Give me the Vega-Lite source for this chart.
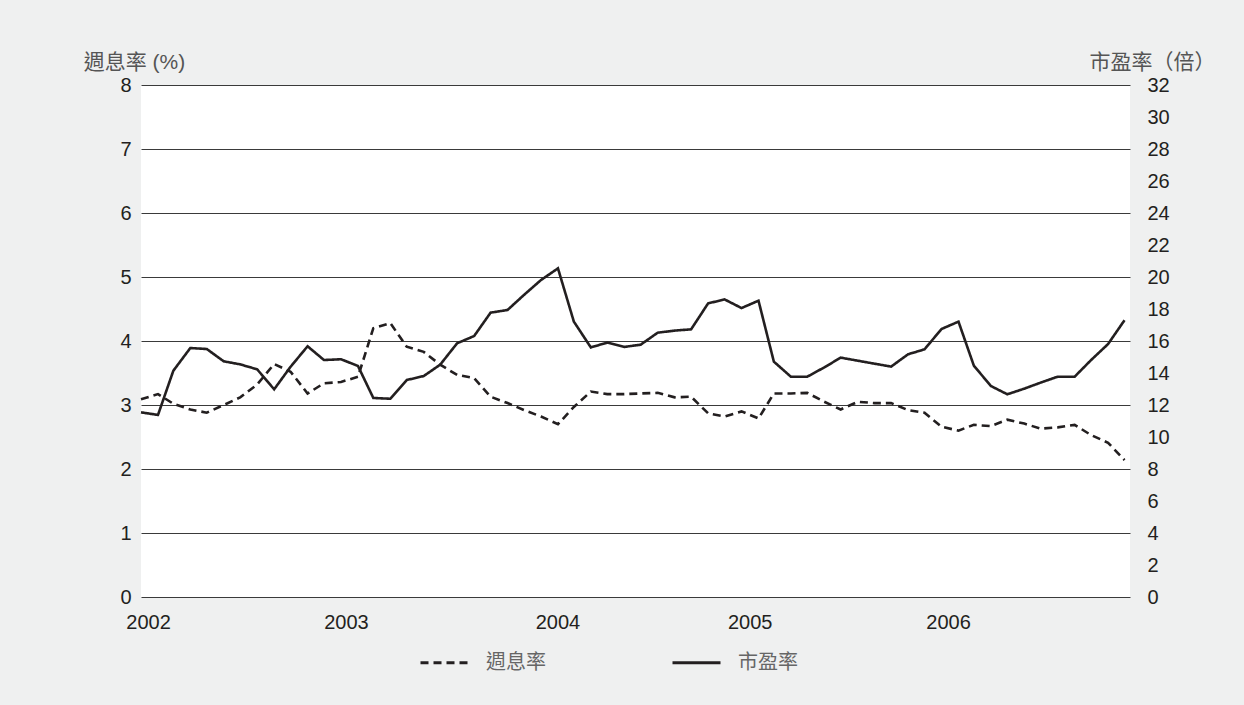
{
  "$schema": "https://vega.github.io/schema/vega-lite/v6.json",
  "width": 989,
  "height": 512,
  "autosize": {"type": "none"},
  "padding": {"left": 141, "top": 85, "right": 114, "bottom": 108},
  "background": "#eff0f0",
  "config": {
    "view": {"stroke": null, "fill": "#ffffff"},
    "font": "Liberation Sans"
  },
  "data": {
    "values": [
      {"date": "2002-01-01", "yield": 3.09, "pe": 11.54},
      {"date": "2002-02-01", "yield": 3.17, "pe": 11.38},
      {"date": "2002-03-01", "yield": 3.02, "pe": 14.14},
      {"date": "2002-04-01", "yield": 2.93, "pe": 15.56},
      {"date": "2002-05-01", "yield": 2.88, "pe": 15.50},
      {"date": "2002-06-01", "yield": 3.00, "pe": 14.73},
      {"date": "2002-07-01", "yield": 3.12, "pe": 14.54},
      {"date": "2002-08-01", "yield": 3.32, "pe": 14.23},
      {"date": "2002-09-01", "yield": 3.64, "pe": 12.98},
      {"date": "2002-10-01", "yield": 3.52, "pe": 14.39},
      {"date": "2002-11-01", "yield": 3.18, "pe": 15.67},
      {"date": "2002-12-01", "yield": 3.34, "pe": 14.81},
      {"date": "2003-01-01", "yield": 3.36, "pe": 14.86},
      {"date": "2003-02-01", "yield": 3.44, "pe": 14.44},
      {"date": "2003-03-01", "yield": 4.20, "pe": 12.44},
      {"date": "2003-04-01", "yield": 4.28, "pe": 12.39},
      {"date": "2003-05-01", "yield": 3.91, "pe": 13.56},
      {"date": "2003-06-01", "yield": 3.83, "pe": 13.81},
      {"date": "2003-07-01", "yield": 3.63, "pe": 14.52},
      {"date": "2003-08-01", "yield": 3.47, "pe": 15.86},
      {"date": "2003-09-01", "yield": 3.42, "pe": 16.31},
      {"date": "2003-10-01", "yield": 3.13, "pe": 17.77},
      {"date": "2003-11-01", "yield": 3.03, "pe": 17.94},
      {"date": "2003-12-01", "yield": 2.92, "pe": 18.88},
      {"date": "2004-01-01", "yield": 2.82, "pe": 19.81},
      {"date": "2004-02-01", "yield": 2.70, "pe": 20.54},
      {"date": "2004-03-01", "yield": 2.97, "pe": 17.21},
      {"date": "2004-04-01", "yield": 3.21, "pe": 15.60},
      {"date": "2004-05-01", "yield": 3.17, "pe": 15.90},
      {"date": "2004-06-01", "yield": 3.17, "pe": 15.63},
      {"date": "2004-07-01", "yield": 3.18, "pe": 15.77},
      {"date": "2004-08-01", "yield": 3.19, "pe": 16.52},
      {"date": "2004-09-01", "yield": 3.12, "pe": 16.65},
      {"date": "2004-10-01", "yield": 3.13, "pe": 16.73},
      {"date": "2004-11-01", "yield": 2.87, "pe": 18.35},
      {"date": "2004-12-01", "yield": 2.82, "pe": 18.60},
      {"date": "2005-01-01", "yield": 2.90, "pe": 18.06},
      {"date": "2005-02-01", "yield": 2.79, "pe": 18.52},
      {"date": "2005-03-01", "yield": 3.18, "pe": 14.71},
      {"date": "2005-04-01", "yield": 3.18, "pe": 13.77},
      {"date": "2005-05-01", "yield": 3.19, "pe": 13.77},
      {"date": "2005-06-01", "yield": 3.05, "pe": 14.35},
      {"date": "2005-07-01", "yield": 2.93, "pe": 14.96},
      {"date": "2005-08-01", "yield": 3.05, "pe": 14.77},
      {"date": "2005-09-01", "yield": 3.03, "pe": 14.58},
      {"date": "2005-10-01", "yield": 3.03, "pe": 14.40},
      {"date": "2005-11-01", "yield": 2.92, "pe": 15.17},
      {"date": "2005-12-01", "yield": 2.88, "pe": 15.48},
      {"date": "2006-01-01", "yield": 2.66, "pe": 16.75},
      {"date": "2006-02-01", "yield": 2.60, "pe": 17.21},
      {"date": "2006-03-01", "yield": 2.69, "pe": 14.46},
      {"date": "2006-04-01", "yield": 2.67, "pe": 13.19},
      {"date": "2006-05-01", "yield": 2.77, "pe": 12.67},
      {"date": "2006-06-01", "yield": 2.71, "pe": 13.02},
      {"date": "2006-07-01", "yield": 2.63, "pe": 13.40},
      {"date": "2006-08-01", "yield": 2.65, "pe": 13.77},
      {"date": "2006-09-01", "yield": 2.69, "pe": 13.77},
      {"date": "2006-10-01", "yield": 2.53, "pe": 14.81},
      {"date": "2006-11-01", "yield": 2.41, "pe": 15.81},
      {"date": "2006-12-01", "yield": 2.14, "pe": 17.30}
    ]
  },
  "encoding": {
    "x": {
      "field": "date",
      "type": "temporal",
      "scale": {
        "type": "utc",
        "domain": [
          {"year": 2002, "month": 1, "date": 1, "utc": true},
          {"year": 2006, "month": 12, "date": 11, "utc": true}
        ]
      },
      "axis": {
        "title": null,
        "values": [
          {"year": 2002, "month": 1, "date": 14, "utc": true},
          {"year": 2003, "month": 1, "date": 10, "utc": true},
          {"year": 2004, "month": 1, "date": 31, "utc": true},
          {"year": 2005, "month": 1, "date": 16, "utc": true},
          {"year": 2006, "month": 1, "date": 13, "utc": true}
        ],
        "format": "%Y",
        "grid": false,
        "ticks": false,
        "domain": false,
        "labelFontSize": 20,
        "labelColor": "#231f20",
        "labelPadding": 15,
        "labelFlush": false
      }
    }
  },
  "layer": [
    {
      "mark": {"type": "line", "color": "#231f20", "strokeWidth": 2.6},
      "encoding": {
        "y": {
          "field": "yield",
          "type": "quantitative",
          "scale": {"domain": [0, 8]},
          "axis": {
            "orient": "left",
            "values": [0, 1, 2, 3, 4, 5, 6, 7, 8],
            "grid": true,
            "gridColor": "#3a3a3a",
            "gridWidth": 1,
            "ticks": false,
            "domain": false,
            "labelFontSize": 20,
            "labelColor": "#231f20",
            "labelPadding": 10,
            "title": "週息率 (%)",
            "titleFont": "Liberation Sans, Noto Sans CJK TC",
            "titleFontSize": 21,
            "titleFontWeight": "normal",
            "titleColor": "#555555",
            "titleAngle": 0,
            "titleAlign": "center",
            "titleBaseline": "alphabetic",
            "titleX": -7,
            "titleY": -17
          }
        },
        "strokeDash": {
          "datum": "週息率",
          "scale": {"domain": ["週息率", "市盈率"], "range": [[8, 5], [1, 0]]},
          "legend": {
            "orient": "none",
            "legendX": 278,
            "legendY": 552,
            "direction": "horizontal",
            "title": null,
            "symbolType": "stroke",
            "symbolSize": 2304,
            "symbolStrokeWidth": 3,
            "symbolStrokeColor": "#231f20",
            "labelFont": "Noto Sans CJK TC",
            "labelFontSize": 20,
            "labelColor": "#666666",
            "labelOffset": 16,
            "columnPadding": 120,
            "padding": 0
          }
        }
      }
    },
    {
      "mark": {"type": "line", "color": "#231f20", "strokeWidth": 2.6},
      "encoding": {
        "y": {
          "field": "pe",
          "type": "quantitative",
          "scale": {"domain": [0, 32]},
          "axis": {
            "orient": "right",
            "values": [0, 2, 4, 6, 8, 10, 12, 14, 16, 18, 20, 22, 24, 26, 28, 30, 32],
            "grid": false,
            "ticks": false,
            "domain": false,
            "labelFontSize": 20,
            "labelColor": "#231f20",
            "labelPadding": 17,
            "title": "市盈率（倍）",
            "titleFont": "Noto Sans CJK TC",
            "titleFontSize": 21,
            "titleFontWeight": "normal",
            "titleColor": "#555555",
            "titleAngle": 0,
            "titleAlign": "center",
            "titleBaseline": "alphabetic",
            "titleX": 22,
            "titleY": -17
          }
        },
        "strokeDash": {"datum": "市盈率"}
      }
    }
  ],
  "resolve": {"scale": {"y": "independent"}}
}
